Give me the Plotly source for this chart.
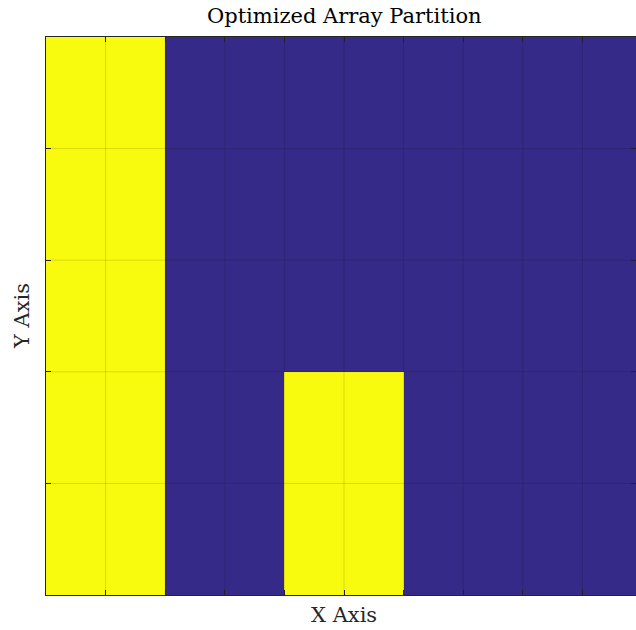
import plotly.graph_objects as go

# Data: 5 rows (bottom to top) x 10 columns; 1 = yellow, 0 = dark blue
x_cols = list(range(10))
y_rows = list(range(5))
row0 = [1, 1, 0, 0, 1, 1, 0, 0, 0, 0]
row1 = [1, 1, 0, 0, 1, 1, 0, 0, 0, 0]
row2 = [1, 1, 0, 0, 0, 0, 0, 0, 0, 0]
row3 = [1, 1, 0, 0, 0, 0, 0, 0, 0, 0]
row4 = [1, 1, 0, 0, 0, 0, 0, 0, 0, 0]
z = [row0, row1, row2, row3, row4]

title_text = "Optimized Array Partition"
x_label = "X Axis"
y_label = "Y Axis"

x_ticks = [i - 0.5 for i in range(11)]
y_ticks = [i - 0.5 for i in range(6)]

FONT = "DejaVu Serif"
AX = "#262626"

fig = go.Figure(go.Heatmap(
    x=x_cols, y=y_rows, z=z,
    colorscale=[[0, "#352A87"], [1, "#F9FB0E"]],
    showscale=False, zmin=0, zmax=1, hoverinfo="skip",
))

# unit width ~59.6 px, visible plot width 590 px
x_hi = -0.5 + 590 / 59.6

shapes = []
for t in x_ticks[1:-1]:
    shapes.append(dict(type="line", xref="x", yref="paper", x0=t, x1=t, y0=0, y1=1,
                       line=dict(color="rgba(0,0,0,0.13)", width=1), layer="above"))
for t in y_ticks[1:-1]:
    shapes.append(dict(type="line", xref="paper", yref="y", x0=0, x1=1, y0=t, y1=t,
                       line=dict(color="rgba(0,0,0,0.13)", width=1), layer="above"))

fig.update_layout(
    width=636, height=630,
    margin=dict(l=46, r=0, t=37, b=35),
    paper_bgcolor="white", plot_bgcolor="white",
    shapes=shapes,
    showlegend=False,
    annotations=[
        dict(text=title_text, xref="x", yref="paper", x=4.5, y=1, yshift=21,
             showarrow=False, font=dict(family=FONT, size=21, color="#000000"),
             xanchor="center", yanchor="middle"),
        dict(text=x_label, xref="x", yref="paper", x=4.5, y=0, yshift=-20,
             showarrow=False, font=dict(family=FONT, size=21, color="#262626"),
             xanchor="center", yanchor="middle"),
        dict(text=y_label, xref="paper", yref="paper", x=0, y=0.5, xshift=-24,
             textangle=-90, showarrow=False,
             font=dict(family=FONT, size=21, color="#262626"),
             xanchor="center", yanchor="middle"),
    ],
)
fig.update_xaxes(range=[-0.5, x_hi], tickvals=x_ticks, ticktext=[""] * len(x_ticks),
                 ticks="inside", ticklen=5, tickcolor=AX, showline=True, linecolor=AX,
                 linewidth=1, mirror="ticks", showgrid=False, zeroline=False)
fig.update_yaxes(range=[-0.5, 4.5], tickvals=y_ticks, ticktext=[""] * len(y_ticks),
                 ticks="inside", ticklen=5, tickcolor=AX, showline=True, linecolor=AX,
                 linewidth=1, mirror="ticks", showgrid=False, zeroline=False)

fig.write_html(
    "out.html",
    config={"displayModeBar": False},
    post_script="document.body.style.margin='0';document.body.style.overflow='hidden';",
)
